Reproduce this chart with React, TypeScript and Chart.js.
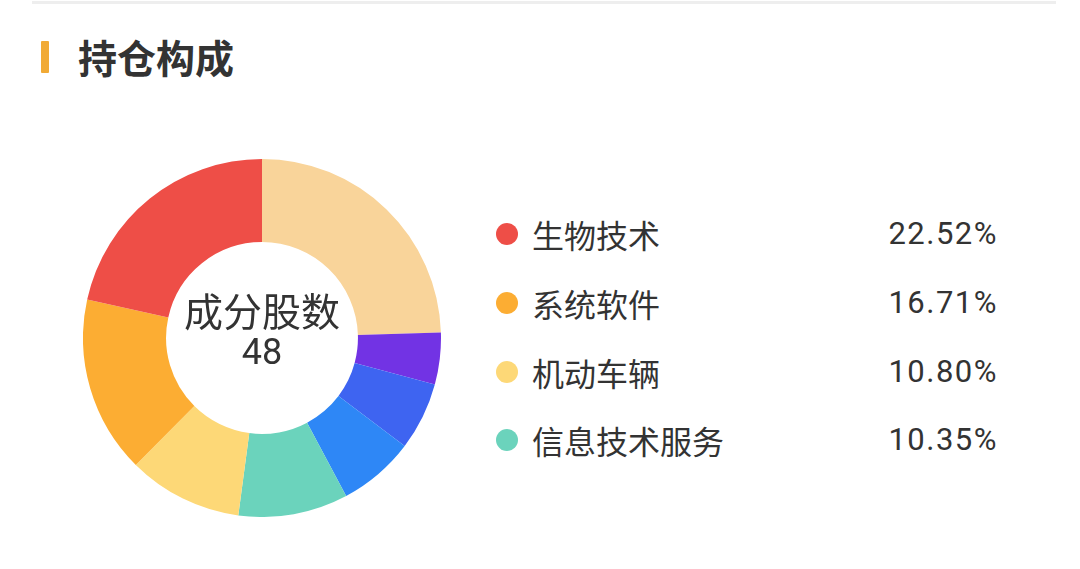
import React, { useEffect, useRef } from "react";
import { Chart, registerables } from "chart.js";

Chart.register(...registerables);

// Sectors, clockwise from 12 o'clock
const categories = ["其他", "其他行业A", "其他行业B", "其他行业C", "信息技术服务", "机动车辆", "系统软件", "生物技术"];
const values = [25.6, 4.9, 6.4, 7.2, 10.35, 10.8, 16.71, 22.52];
const colors = ["#F9D49A", "#7233E4", "#3E64F1", "#2E87F6", "#6BD3BC", "#FDD877", "#FCAD33", "#EE4E47"];

// Legend (top four sectors)
const legendNames = ["生物技术", "系统软件", "机动车辆", "信息技术服务"];

const centerTitle = "成分股数";
const centerCount = "48";
const title = "持仓构成";

const FONT = "Roboto, 'Noto Sans CJK SC', 'Noto Sans', sans-serif";

export default function App() {
  const canvasRef = useRef<HTMLCanvasElement | null>(null);

  useEffect(() => {
    const ctx = canvasRef.current;
    if (!ctx) return;
    const chart = new Chart(ctx, {
      type: "doughnut",
      data: {
        labels: categories,
        datasets: [
          {
            data: values,
            backgroundColor: colors,
            borderWidth: 0,
            hoverBorderWidth: 0,
            hoverOffset: 0,
          },
        ],
      },
      options: {
        animation: false,
        responsive: false,
        maintainAspectRatio: false,
        cutout: "53.6%",
        rotation: 0,
        layout: { padding: 0 },
        plugins: {
          legend: { display: false },
          tooltip: { enabled: false },
        },
        events: [],
      },
    });
    return () => chart.destroy();
  }, []);

  const legendValue = (name: string) => {
    const i = categories.indexOf(name);
    return values[i].toFixed(2) + "%";
  };
  const legendColor = (name: string) => colors[categories.indexOf(name)];

  return (
    <div
      style={{
        position: "absolute",
        left: 0,
        top: 0,
        width: 1080,
        height: 569,
        background: "#ffffff",
        overflow: "hidden",
        fontFamily: FONT,
        color: "#333333",
      }}
    >
      {/* top divider */}
      <div style={{ position: "absolute", left: 32, top: 1, width: 1024, height: 3, background: "#eeeeee" }} />
      {/* title */}
      <div style={{ position: "absolute", left: 41, top: 41, width: 8, height: 32, background: "#F1AA35", borderRadius: 1 }} />
      <div
        style={{
          position: "absolute",
          left: 78,
          top: 36,
          height: 40,
          lineHeight: "40px",
          fontSize: 39,
          fontWeight: 700,
          color: "#333333",
          fontFamily: "'Noto Sans CJK SC', sans-serif",
        }}
      >
        {title}
      </div>

      {/* doughnut */}
      <canvas
        ref={canvasRef}
        width={358}
        height={358}
        style={{ position: "absolute", left: 83, top: 159, width: 358, height: 358 }}
      />
      <div
        style={{
          position: "absolute",
          left: 162,
          top: 288,
          width: 200,
          textAlign: "center",
          fontSize: 39,
          lineHeight: "42px",
          fontFamily: "'Noto Sans CJK SC', sans-serif",
          color: "#333333",
        }}
      >
        {centerTitle}
      </div>
      <div
        style={{
          position: "absolute",
          left: 162,
          top: 332,
          width: 200,
          textAlign: "center",
          fontSize: 36,
          lineHeight: "40px",
          fontFamily: "Roboto, sans-serif",
          color: "#333333",
        }}
      >
        {centerCount}
      </div>

      {/* legend */}
      {legendNames.map((name, i) => {
        const cy = [234, 303, 372, 440][i];
        return (
          <React.Fragment key={name}>
            <div
              style={{
                position: "absolute",
                left: 496,
                top: cy - 11,
                width: 22,
                height: 22,
                borderRadius: "50%",
                background: legendColor(name),
              }}
            />
            <div
              style={{
                position: "absolute",
                left: 532,
                top: cy - 20,
                height: 40,
                lineHeight: "40px",
                fontSize: 32,
                fontFamily: "'Noto Sans CJK SC', sans-serif",
                color: "#333333",
              }}
            >
              {name}
            </div>
            <div
              style={{
                position: "absolute",
                left: 798,
                width: 200,
                top: cy - 20,
                height: 40,
                lineHeight: "40px",
                fontSize: 31,
                letterSpacing: "1.5px",
                textAlign: "right",
                fontFamily: "Roboto, sans-serif",
                color: "#333333",
              }}
            >
              {legendValue(name)}
            </div>
          </React.Fragment>
        );
      })}
    </div>
  );
}
